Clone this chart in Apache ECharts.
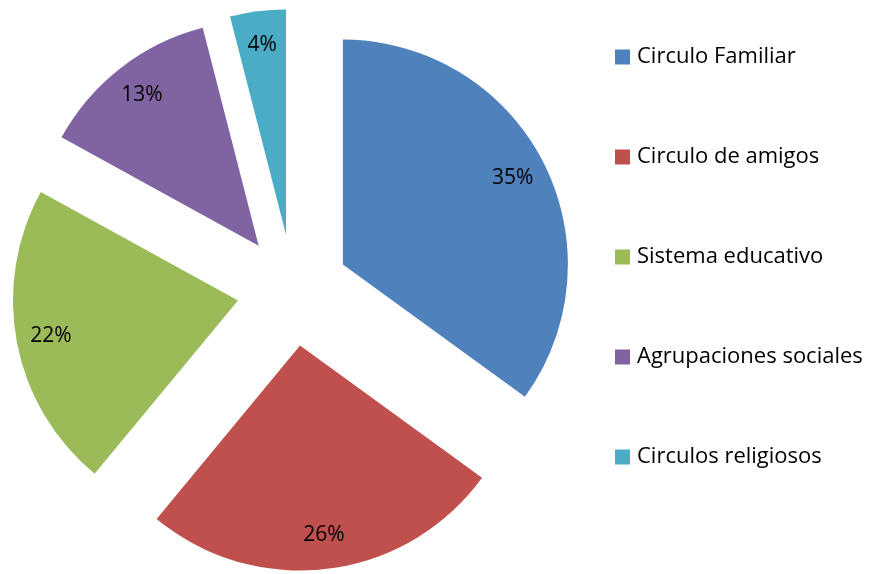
<!DOCTYPE html>
<html><head><meta charset="utf-8">
<script src="https://cdn.jsdelivr.net/npm/echarts@6/dist/echarts.min.js"></script>
<style>html,body{margin:0;padding:0;background:#fff}#c{width:879px;height:574px}</style>
</head><body><div id="c"></div>
<script>
const categories = ['Circulo Familiar','Circulo de amigos','Sistema educativo','Agrupaciones sociales','Circulos religiosos'];
const values = [35, 26, 22, 13, 4];
const colors = ['#4F81BD','#C0504D','#9BBB59','#8064A2','#4BACC6'];

const font = '"Open Sans", sans-serif';
const center = [293, 290];
const R = 225;
const off = 56;

const chart = echarts.init(document.getElementById('c'));
chart.setOption({
  animation: false,
  legend: {
    orient: 'vertical',
    left: 615, top: 46, padding: 0,
    itemWidth: 15, itemHeight: 15, itemGap: 78,
    icon: 'rect',
    selectedMode: false,
    textStyle: { fontFamily: font, fontSize: 22, lineHeight: 20, color: '#000', padding: [0,0,0,2] },
    data: categories
  },
  series: [
    {
      type: 'pie',
      center: center, radius: [0, R],
      startAngle: 90, clockwise: true,
      selectedMode: 'multiple', selectedOffset: off,
      silent: true,
      label: { show: false }, labelLine: { show: false },
      emphasis: { disabled: true },
      data: categories.map((n, i) => ({ name: n, value: values[i], selected: true, itemStyle: { color: colors[i] } }))
    },
    {
      type: 'pie',
      center: center, radius: [150, R],
      startAngle: 90, clockwise: true,
      selectedMode: 'multiple', selectedOffset: off,
      silent: true,
      emphasis: { disabled: true },
      label: { show: true, position: 'inside', formatter: '{c}%', fontFamily: font, fontSize: 21, color: '#000' },
      labelLine: { show: false },
      data: categories.map((n, i) => ({ name: n, value: values[i], selected: true, itemStyle: { color: 'rgba(0,0,0,0)' } }))
    }
  ]
});
</script></body></html>
